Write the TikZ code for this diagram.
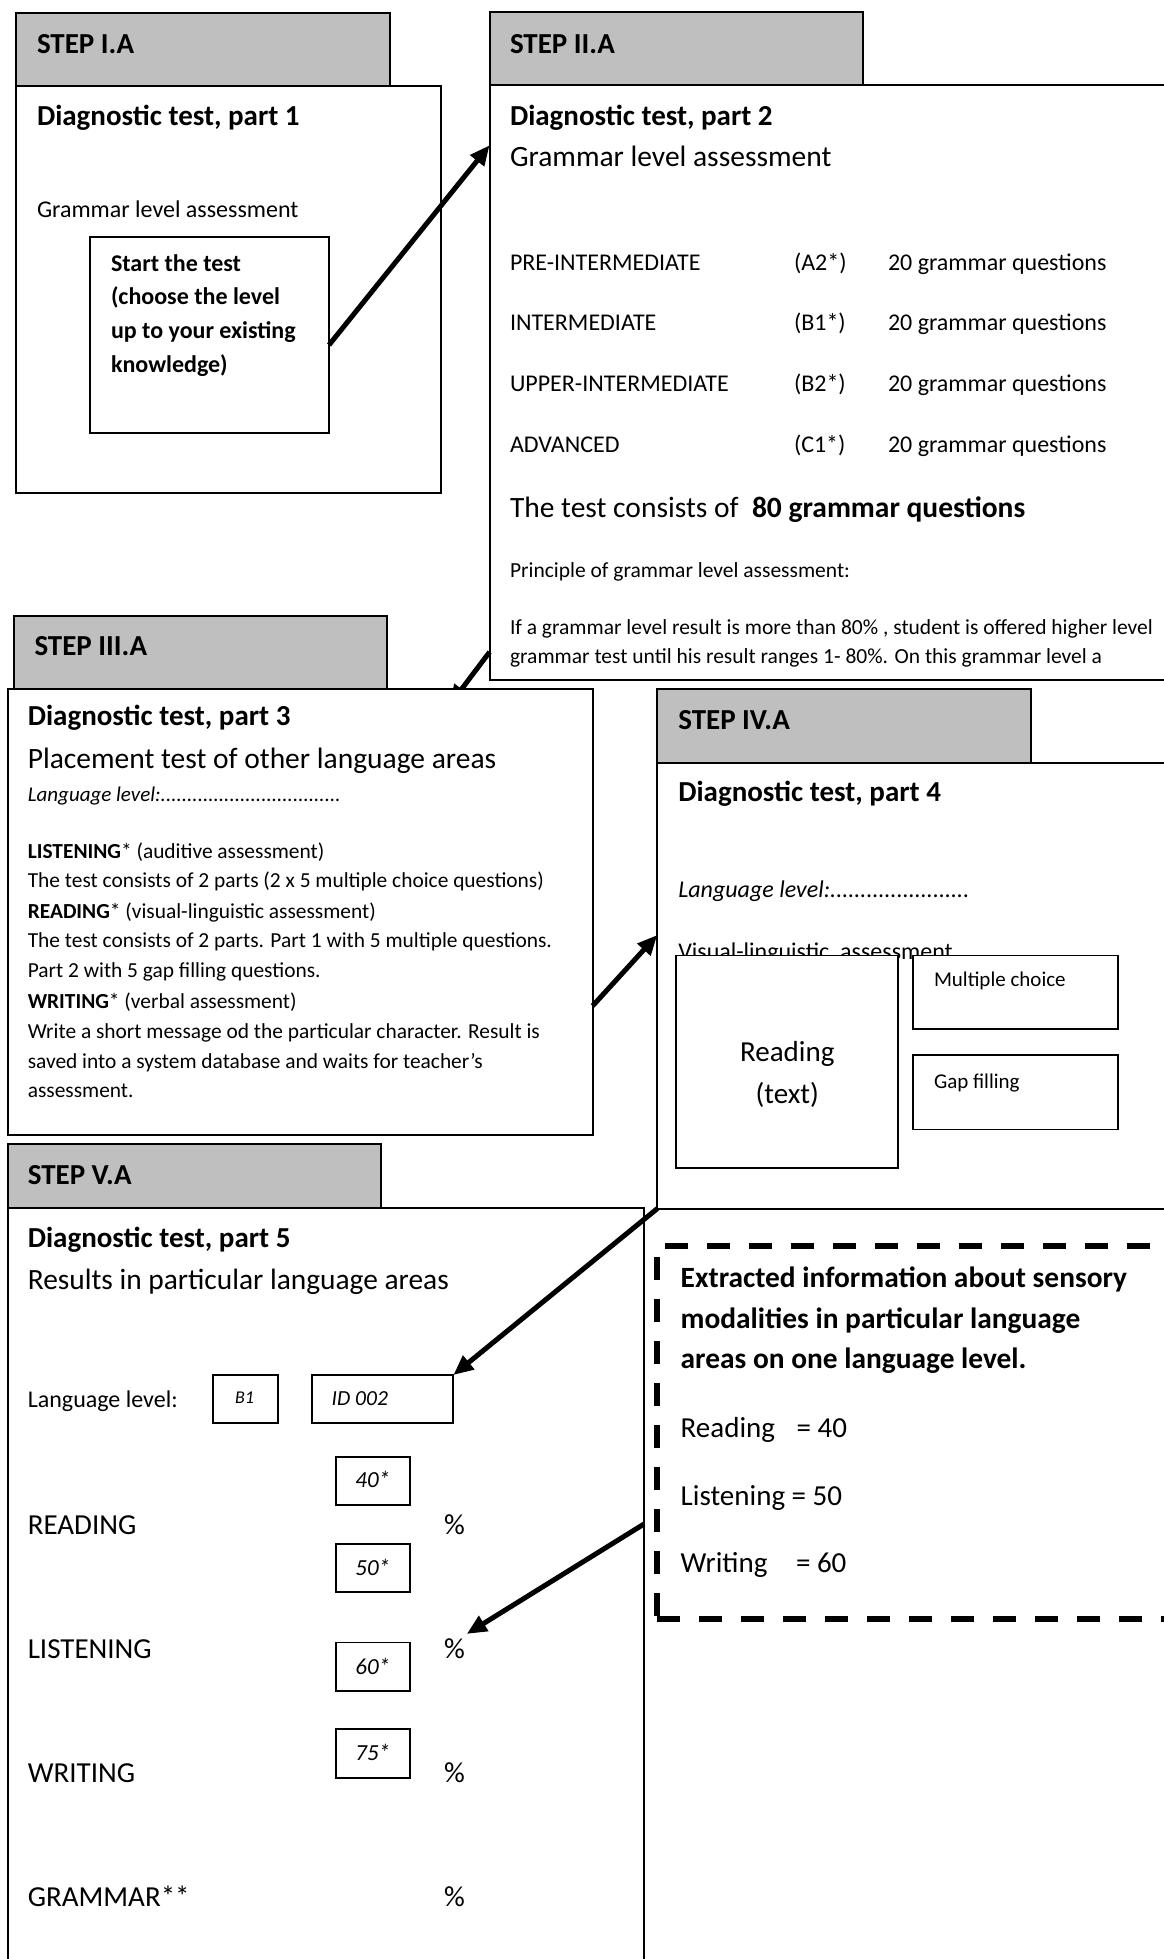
\documentclass[tikz,border=0pt]{standalone}
\usepackage{fontspec}
\setmainfont{Carlito}
\usetikzlibrary{arrows.meta}
\definecolor{hdrgrey}{HTML}{BFBFBF}
\newcommand{\myfs}[1]{\fontsize{#1}{#1}\selectfont}
\begin{document}
\begin{tikzpicture}[x=1pt,y=-1pt,
  hdr/.style={draw=black, fill=hdrgrey, line width=2pt, anchor=north west, inner sep=0pt, outer sep=0pt},
  panel/.style={draw=black, fill=white, line width=2pt, anchor=north west, inner sep=0pt, outer sep=0pt},
  sbox/.style={draw=black, fill=white, line width=1.8pt, anchor=north west, inner sep=0pt, outer sep=0pt},
  dbox/.style={draw=black, line width=6pt, dash pattern=on 23pt off 19pt, anchor=north west, inner sep=0pt, outer sep=0pt},
  txt/.style={anchor=base west, inner sep=0pt, outer sep=0pt},
  ctxt/.style={anchor=base, inner sep=0pt, outer sep=0pt},
  steptxt/.style={txt, font={\myfs{29}\bfseries}},
  titletxt/.style={txt, font={\myfs{29}\bfseries}},
  conn/.style={line width=5pt, -{Triangle[length=20pt,width=17pt]}},
]
\useasboundingbox[fill=white] (0,0) rectangle (1163,1959);

% ---------------- STEP I.A
\node[hdr, minimum width=374pt, minimum height=73pt] (h1) at (16,13) {};
\node[steptxt] (h1t) at (37,54) {STEP I.A};
\node[panel, minimum width=425pt, minimum height=407pt] (p1) at (16,86) {};
\node[titletxt] (p1t) at (37,125) {Diagnostic test, part 1};
\node[txt, font=\myfs{24}] (p1s) at (37,217) {Grammar level assessment};
\node[sbox, minimum width=239pt, minimum height=196pt] (start) at (90,237) {};
\node[txt, font={\myfs{24}\bfseries}] (st1) at (111,271) {Start the test};
\node[txt, font={\myfs{24}\bfseries}] (st2) at (111,304) {(choose the level};
\node[txt, font={\myfs{24}\bfseries}] (st3) at (111,338) {up to your existing};
\node[txt, font={\myfs{24}\bfseries}] (st4) at (111,372) {knowledge)};

% ---------------- STEP II.A
\node[hdr, minimum width=373.5pt, minimum height=72.5pt] (h2) at (489.6,12.5) {};
\node[steptxt] (h2t) at (510,53) {STEP II.A};
\node[panel, minimum width=710pt, minimum height=594.5pt] (p2) at (489.6,85) {};
\draw[conn] ([yshift=-10pt]start.east) -- ([yshift=237pt]p2.west);
\node[titletxt] (p2t) at (510,125) {Diagnostic test, part 2};
\node[txt, font=\myfs{29.5}] (p2s) at (510,166) {Grammar level assessment};
\foreach \n/\lv/\cf/\yy in {a/PRE-INTERMEDIATE/A2/270, b/INTERMEDIATE/B1/330, c/UPPER-INTERMEDIATE/B2/391.5, d/ADVANCED/C1/452}{
  \node[txt, font=\myfs{24}] (lv\n) at (510,\yy) {\lv};
  \node[txt, font=\myfs{24}] (cf\n) at (794,\yy) {(\cf*)};
  \node[txt, font=\myfs{24}] (gq\n) at (888,\yy) {20 grammar questions};
}
\node[txt, font=\myfs{29.5}] (p2c) at (510,517) {The test consists of\ \ \textbf{80 grammar questions}};
\node[txt, font=\myfs{21.5}] (p2p) at (510,577) {Principle of grammar level assessment:};
\node[txt, font=\myfs{21.5}] (p2i1) at (510,634) {If a grammar level result is more than 80\% , student is offered higher level};
\node[txt, font=\myfs{21.5}] (p2i2) at (510,663) {grammar test until his result ranges 1- 80\%. On this grammar level a};

% ---------------- arrow II -> III (head hidden under box III)
\node[hdr, minimum width=373.5pt, minimum height=73.5pt] (h3) at (13.5,615.5) {};
\coordinate (p3nw) at (7.6,689);
\draw[conn] ([yshift=-269.7pt]p2.west) -- ([shift={(442pt,-16pt)}]p3nw);

% ---------------- STEP III.A
\node[steptxt] (h3t) at (34.5,655) {STEP III.A};
\node[panel, minimum width=585pt, minimum height=445.8pt] (p3) at (7.6,689) {};
\node[titletxt] (p3t) at (27.8,725.7) {Diagnostic test, part 3};
\node[txt, font=\myfs{29.5}] (p3s) at (27.8,768.7) {Placement test of other language areas};
\node[txt, font={\myfs{21}\itshape}] (p3l) at (27.8,801.4) {Language level:..................................};
\node[txt, font=\myfs{21.4}] (b1) at (27.8,858.3) {\textbf{LISTENING}* (auditive assessment)};
\node[txt, font=\myfs{21.4}] (b2) at (27.8,887.5) {The test consists of 2 parts (2 x 5 multiple choice questions)};
\node[txt, font=\myfs{21.4}] (b3) at (27.8,918.5) {\textbf{READING}* (visual-linguistic assessment)};
\node[txt, font=\myfs{21.4}] (b4) at (27.8,947.8) {The test consists of 2 parts. Part 1 with 5 multiple questions.};
\node[txt, font=\myfs{21.4}] (b5) at (27.8,977.7) {Part 2 with 5 gap filling questions.};
\node[txt, font=\myfs{21.4}] (b6) at (27.8,1008) {\textbf{WRITING}* (verbal assessment)};
\node[txt, font=\myfs{21.4}] (b7) at (27.8,1038.4) {Write a short message od the particular character. Result is};
\node[txt, font=\myfs{21.4}] (b8) at (27.8,1068.3) {saved into a system database and waits for teacher’s};
\node[txt, font=\myfs{21.4}] (b9) at (27.8,1097.6) {assessment.};

% ---------------- STEP IV.A
\node[hdr, minimum width=373.4pt, minimum height=74pt] (h4) at (657.3,688.6) {};
\node[steptxt] (h4t) at (678.3,729) {STEP IV.A};
\node[panel, minimum width=542.7pt, minimum height=446pt] (p4) at (657.3,762.6) {};
\node[titletxt] (p4t) at (678.3,801) {Diagnostic test, part 4};
\node[txt, font={\myfs{24}\itshape}] (p4l) at (678.3,897) {Language level:.......................};
\node[txt, font=\myfs{24}] (p4v) at (678.3,959) {Visual-linguistic\ \ assessment};
\node[sbox, minimum width=222.3pt, minimum height=212.8pt] (rd) at (676,955.5) {};
\node[sbox, minimum width=205pt, minimum height=73.3pt] (mc) at (912.7,955.5) {};
\node[sbox, minimum width=205pt, minimum height=74.1pt] (gf) at (912.7,1055.3) {};
\node[ctxt, font=\myfs{29}] (rd1) at (787.3,1061.5) {Reading};
\node[ctxt, font=\myfs{29}] (rd2) at (787.3,1103.5) {(text)};
\node[txt, font=\myfs{21}] (mct) at (934,986.5) {Multiple choice};
\node[txt, font=\myfs{21}] (gft) at (934,1088) {Gap filling};

\draw[conn] ([yshift=-94pt]p3.east) -- ([yshift=50.6pt]p4.west);

% ---------------- STEP V.A
\node[hdr, minimum width=373.4pt, minimum height=64pt] (h5) at (7.6,1144) {};
\node[steptxt] (h5t) at (27.8,1184) {STEP V.A};
\node[panel, minimum width=636.4pt, minimum height=767pt] (p5) at (7.6,1208) {};
\node[titletxt] (p5t) at (27.8,1247) {Diagnostic test, part 5};
\node[txt, font=\myfs{29.4}] (p5s) at (27.8,1289) {Results in particular language areas};
\node[txt, font=\myfs{24}] (p5l) at (27.8,1407.4) {Language level:};
\node[sbox, minimum width=65pt, minimum height=48.3pt] (lb1) at (213.3,1375) {};
\node[txt, font={\myfs{18}\itshape}] (lb1t) at (235,1403.3) {B1};
\node[sbox, minimum width=141.6pt, minimum height=48.3pt] (lid) at (311.7,1375) {};
\node[txt, font={\myfs{21.5}\itshape}] (lidt) at (331.7,1405.7) {ID 002};
\foreach \n/\v/\yt/\yb in {r/40/1456.7/1487.7, l/50/1543.8/1575, w/60/1642.5/1674, g/75/1729.2/1760}{
  \node[sbox, minimum width=74.3pt, minimum height=48.4pt] (sc\n) at (335.7,\yt) {};
  \node[ctxt, font={\myfs{23}\itshape}] (sct\n) at (372.8,\yb) {\v*};
}
\node[txt, font=\myfs{29}] (lr) at (27.8,1534.4) {READING};
\node[txt, font=\myfs{29}] (ll) at (27.8,1658.7) {LISTENING};
\node[txt, font=\myfs{29}] (lw) at (27.8,1782.5) {WRITING};
\node[txt, font=\myfs{29}] (lg) at (27.8,1906.3) {GRAMMAR**};
\node[txt, font=\myfs{29}] (pr) at (444,1534.4) {\%};
\node[txt, font=\myfs{29}] (pl) at (444,1658.7) {\%};
\node[txt, font=\myfs{29}] (pw) at (444,1782.5) {\%};
\node[txt, font=\myfs{29}] (pg) at (444,1906.3) {\%};

% ---------------- dashed box
\node[dbox, minimum width=543pt, minimum height=372.7pt] (dx) at (657,1246) {};
\node[txt, font={\myfs{29.4}\bfseries}] (dx1) at (680.7,1287) {Extracted information about sensory};
\node[txt, font={\myfs{29.4}\bfseries}] (dx2) at (680.7,1328) {modalities in particular language};
\node[txt, font={\myfs{29.4}\bfseries}] (dx3) at (680.7,1368) {areas on one language level.};
\node[txt, font=\myfs{29}] (dr) at (680.7,1437) {Reading};
\node[txt, font=\myfs{29}] (drv) at (796.7,1437) {= 40};
\node[txt, font=\myfs{29}] (dl) at (680.7,1505) {Listening = 50};
\node[txt, font=\myfs{29}] (dw) at (680.7,1572) {Writing};
\node[txt, font=\myfs{29}] (dwv) at (796,1572) {= 60};

% ---------------- arrows into step V
\draw[conn] (p4.south west) -- (lid.north east);
\draw[conn] ([yshift=-316pt]p5.north east) -- ([shift={(2pt,5pt)}]pl.north east);
\end{tikzpicture}
\end{document}
